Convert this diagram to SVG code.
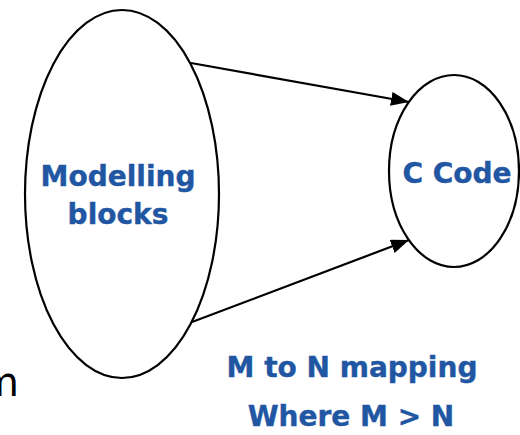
<svg xmlns="http://www.w3.org/2000/svg" width="520" height="435" viewBox="0 0 520 435">
<defs>
<style>
.shape{fill:none;stroke:#000;stroke-width:2.2}
.lbl{font-family:"DejaVu Sans",Verdana,sans-serif;font-weight:bold;font-size:28px;fill:#2156A3;text-anchor:middle;stroke:#2156A3;stroke-width:0.4}
.edge{stroke:#000;stroke-width:2.2;fill:none;marker-end:url(#arr)}
</style>
<marker id="arr" viewBox="0 0 18 14" refX="18" refY="7" markerWidth="18" markerHeight="14" markerUnits="userSpaceOnUse" orient="auto">
<path d="M0,0 L18,7 L0,14 Z" fill="#000"/>
</marker>
</defs>
<rect width="520" height="435" fill="#fff"/>
<g id="connectors">
<line class="edge" x1="191" y1="63" x2="409" y2="102"/>
<line class="edge" x1="192" y1="322" x2="409" y2="240"/>
</g>
<g id="modelling">
<ellipse class="shape" cx="122" cy="194" rx="97" ry="184"/>
<text class="lbl" x="118" y="186">Modelling</text>
<text class="lbl" x="118" y="224">blocks</text>
</g>
<g id="ccode">
<ellipse class="shape" cx="454" cy="171" rx="65" ry="96"/>
<text class="lbl" x="457" y="183">C Code</text>
</g>
<text class="lbl" x="352" y="377">M to N mapping</text>
<text class="lbl" x="351" y="426">Where M &gt; N</text>
<text x="19" y="396" font-family="DejaVu Sans,Verdana,sans-serif" font-size="40" fill="#000" text-anchor="end">m</text>
</svg>
